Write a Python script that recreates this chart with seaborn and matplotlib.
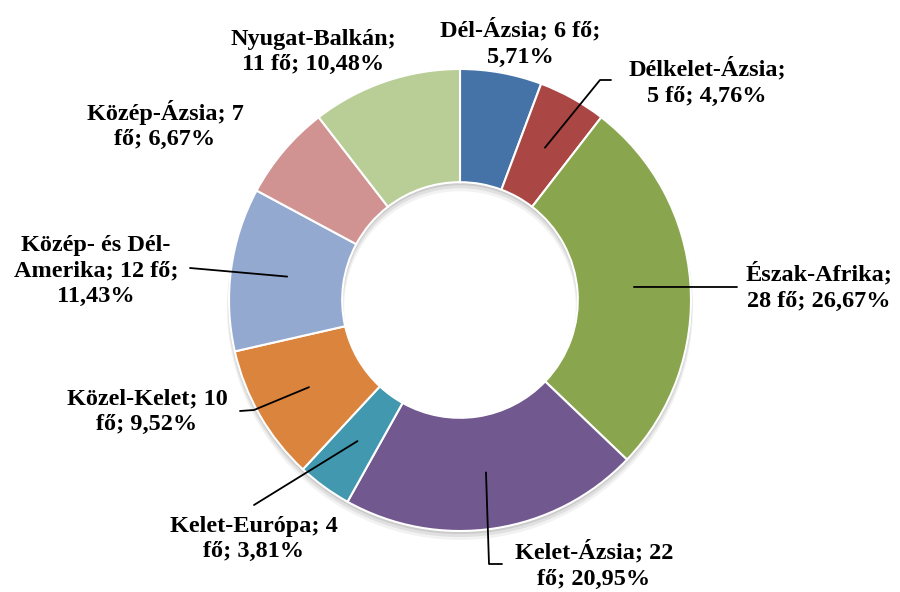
import numpy as np
import matplotlib
matplotlib.use("Agg")
import matplotlib.pyplot as plt
import seaborn as sns

# ---- data ----
regions = ["Dél-Ázsia", "Délkelet-Ázsia", "Észak-Afrika", "Kelet-Ázsia", "Kelet-Európa",
           "Közel-Kelet", "Közép- és Dél-Amerika", "Közép-Ázsia", "Nyugat-Balkán"]
counts = [6, 5, 28, 22, 4, 10, 12, 7, 11]
label_texts = [
    "Dél-Ázsia; 6 fő;\n5,71%",
    "Délkelet-Ázsia;\n5 fő; 4,76%",
    "Észak-Afrika;\n28 fő; 26,67%",
    "Kelet-Ázsia; 22\nfő; 20,95%",
    "Kelet-Európa; 4\nfő; 3,81%",
    "Közel-Kelet; 10\nfő; 9,52%",
    "Közép- és Dél-\nAmerika; 12 fő;\n11,43%",
    "Közép-Ázsia; 7\nfő; 6,67%",
    "Nyugat-Balkán;\n11 fő; 10,48%",
]
colors = ["#4572A7", "#AA4643", "#89A54E", "#71588F", "#4198AF",
          "#DB843D", "#93A9CF", "#D19392", "#B9CD96"]

# ---- layout (pixels in the 900x592 image) ----
CX, CY, R = 460, 300, 231
label_pos_px = [(520, 43), (707, 82), (819, 287), (594, 565), (254, 539),
                (147, 412), (96, 271), (165, 125), (313, 52)]
leader_px = [None, [(600, 80), (611, 80)], [(737, 287)], [(489, 564), (502, 564)],
             [(254, 505)], [(254, 410), (240, 411)], [(190, 268)], None, None]

def px2d(p):
    return ((p[0] - CX) / R, (CY - p[1]) / R)

sns.set_theme(style="white")
plt.rcParams['font.family'] = ['Liberation Serif', 'DejaVu Serif']

fig = plt.figure(figsize=(9, 5.92), dpi=100)
ax = fig.add_axes([0, 0, 1, 1])
ax.axis("off")

ring_w = 0.49
# soft shadow
for off, a in [(0.03, 0.05), (0.02, 0.07), (0.01, 0.09)]:
    sh = plt.matplotlib.patches.Wedge((0.0, -off), 1.0 + off * 0.3, 0, 360, width=ring_w + off * 0.6,
                                      facecolor="black", alpha=a, edgecolor="none", zorder=0)
    ax.add_patch(sh)

wedges, _ = ax.pie(counts, colors=colors, startangle=90, counterclock=False, radius=1.0,
                   wedgeprops=dict(width=ring_w, edgecolor="white", linewidth=1.5),
                   normalize=True)
ax.set_xlim(-CX / R, (900 - CX) / R)
ax.set_ylim(-(592 - CY) / R, CY / R)
ax.set_aspect("auto")

total = sum(counts)
cum = np.cumsum([0] + counts)
rmid = 1.0 - ring_w / 2
for i in range(len(counts)):
    mid = (cum[i] + counts[i] / 2) / total * 2 * np.pi
    cx, cy = rmid * np.sin(mid), rmid * np.cos(mid)
    tx, ty = px2d(label_pos_px[i])
    ax.text(tx, ty, label_texts[i], ha="center", va="center", fontsize=17.5,
            fontweight="bold", color="black", linespacing=1.3, zorder=5)
    if leader_px[i] is not None:
        pts = [(cx, cy)] + [px2d(p) for p in leader_px[i]]
        xs, ys = zip(*pts)
        ax.plot(xs, ys, color="black", lw=1.3, zorder=4)

fig.savefig("out.png", dpi=100, facecolor="white")
